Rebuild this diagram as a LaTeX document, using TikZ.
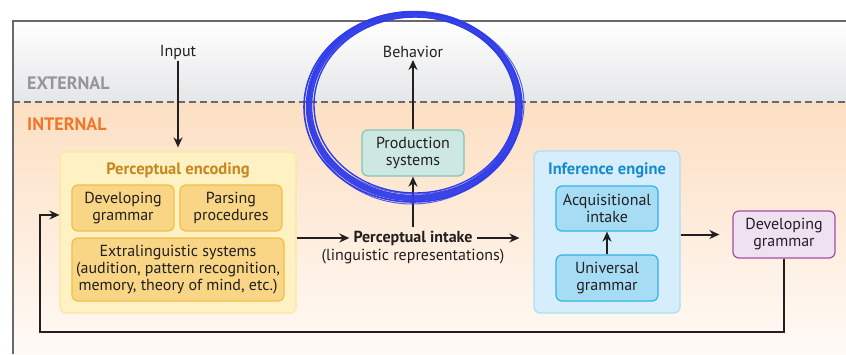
\documentclass[tikz,border=0pt]{standalone}
\usepackage{fontspec}
\setmainfont{PT Sans}
\usetikzlibrary{arrows.meta}

\definecolor{ink}{RGB}{35,31,32}
\definecolor{framegray}{RGB}{105,105,108}
\definecolor{extgray}{RGB}{150,150,152}
\definecolor{intorange}{RGB}{240,118,40}
\definecolor{peTitle}{RGB}{200,134,30}
\definecolor{peFill}{RGB}{254,241,196}
\definecolor{peEdge}{RGB}{253,230,160}
\definecolor{peInFill}{RGB}{249,214,134}
\definecolor{peInEdge}{RGB}{242,190,70}
\definecolor{prodFill}{RGB}{205,232,226}
\definecolor{prodEdge}{RGB}{130,196,184}
\definecolor{infTitle}{RGB}{22,138,206}
\definecolor{infFill}{RGB}{214,238,251}
\definecolor{infEdge}{RGB}{176,220,245}
\definecolor{infInFill}{RGB}{166,221,245}
\definecolor{infInEdge}{RGB}{50,178,232}
\definecolor{dgFill}{RGB}{239,225,242}
\definecolor{dgEdge}{RGB}{166,76,168}
\definecolor{marker}{RGB}{48,60,232}

\tikzset{
  arr/.style={draw=ink, line width=2pt, -{Stealth[length=10pt,width=9pt]}},
  label/.style={text=ink, font=\fontsize{16}{17}\selectfont, align=center, inner sep=2pt},
  outerbox/.style={rounded corners=6pt, line width=1.2pt, anchor=center},
  innerbox/.style={rounded corners=6pt, line width=1.2pt, anchor=center,
    text=ink, font=\fontsize{16}{17}\selectfont, align=center, inner sep=0pt},
  pebox/.style={innerbox, fill=peInFill, draw=peInEdge},
  infbox/.style={innerbox, fill=infInFill, draw=infInEdge},
  zone/.style={font=\bfseries\fontsize{18}{20}\selectfont, anchor=west, inner sep=0pt},
  title/.style={font=\bfseries\fontsize{16.5}{18}\selectfont, inner sep=0pt},
}

\begin{document}
\begin{tikzpicture}[x=1pt, y=-1pt]
  \useasboundingbox (0,0) rectangle (846,354);
  % page background
  \fill[white] (0,0) rectangle (846,354);

  % external and internal bands
  \shade[top color=white, bottom color={rgb,255:red,229;green,230;blue,232}] (13,21) rectangle (846,102);
  \shade[top color={rgb,255:red,252;green,223;blue,194}, bottom color={rgb,255:red,255;green,250;blue,246}] (13,102) rectangle (846,354);

  % frame and boundary
  \draw[framegray, line width=1.6pt] (13,354) -- (13,21) -- (846,21);
  \draw[framegray, line width=1.4pt, dash pattern=on 7pt off 4pt] (13,102) -- (846,102);

  \node[zone, text=extgray] (extlabel) at (27,83) {EXTERNAL};
  \node[zone, text=intorange] (intlabel) at (27,124) {INTERNAL};

  % perceptual encoding
  \node[outerbox, fill=peFill, draw=peEdge, minimum width=236pt, minimum height=161pt] (pe) at (178,232.5) {};
  \node[title, text=peTitle] (petitle) at (178,170) {Perceptual encoding};
  \node[pebox, minimum width=102pt, minimum height=46pt] (dg1) at (123,208) {Developing\\grammar};
  \node[pebox, minimum width=102pt, minimum height=46pt] (pp) at (231,208) {Parsing\\procedures};
  \node[pebox, minimum width=212pt, minimum height=63pt] (ext) at (178,269.5) {Extralinguistic systems\\(audition, pattern recognition,\\memory, theory of mind, etc.)};

  % production
  \node[innerbox, fill=prodFill, draw=prodEdge, minimum width=102pt, minimum height=46pt] (prod) at (413,153) {Production\\systems};
  \node[label] (behavior) at (413,52) {Behavior};
  \node[label] (input) at (178,52) {Input};

  % perceptual intake
  \node[label, font=\bfseries\fontsize{16}{17}\selectfont, inner sep=4pt] (intake) at (413,238) {Perceptual intake};
  \node[label] (ling) at (413,257) {(linguistic representations)};

  % inference engine
  \node[outerbox, fill=infFill, draw=infEdge, minimum width=146pt, minimum height=162pt] (inf) at (607,232) {};
  \node[title, text=infTitle] (inftitle) at (607,170) {Inference engine};
  \node[infbox, minimum width=102pt, minimum height=45pt] (acq) at (607,208.5) {Acquisitional\\intake};
  \node[infbox, minimum width=102pt, minimum height=46pt] (ug) at (607,278) {Universal\\grammar};

  % developing grammar output
  \node[innerbox, fill=dgFill, draw=dgEdge, minimum width=102pt, minimum height=47pt] (dg2) at (784,234.5) {Developing\\grammar};

  % connectors
  \draw[arr, shorten >=4pt] (input.south) -- (pe.north);
  \draw[arr] (prod.north) -- (behavior.south);
  \draw[arr] (intake.north) -- (prod.south);
  \draw[arr] (pe.east |- intake.west) -- (intake.west);
  \draw[arr, shorten >=14pt] (intake.east) -- (inf.west |- intake.east);
  \draw[arr] (ug.north) -- (acq.south);
  \draw[arr, shorten >=13pt] (inf.east |- dg2.west) -- (dg2.west);
  \coordinate (loopbr) at (784,332);
  \coordinate (loopbl) at (40,332);
  \draw[arr] (dg2.south) -- (loopbr) -- (loopbl) |- ([yshift=17.5pt]pe.west);

  % hand-drawn marker ring
  \begin{scope}[marker]
    \draw[line width=6.5pt, opacity=0.95] (414,106) ellipse [x radius=105pt, y radius=92pt];
    \draw[line width=1.6pt] (413,107) ellipse [x radius=109pt, y radius=95pt];
    \draw[line width=1.4pt] (415,105) ellipse [x radius=101pt, y radius=88pt];
    \draw[line width=1pt, opacity=0.8] (412,108) ellipse [x radius=104pt, y radius=96pt];
    \draw[line width=1pt, opacity=0.8] (416,104) ellipse [x radius=108pt, y radius=90pt];
  \end{scope}
\end{tikzpicture}
\end{document}
